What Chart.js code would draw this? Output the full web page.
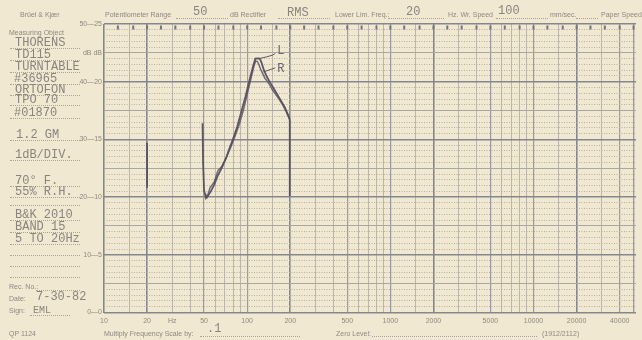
<!DOCTYPE html>
<html>
<head>
<meta charset="utf-8">
<title>Thorens TD115 - B&K chart</title>
<script src="https://cdn.jsdelivr.net/npm/chart.js@4"></script>
<style>
  html, body { margin: 0; padding: 0; background: #f1e8d2; overflow: hidden; }
  #paper { position: relative; width: 642px; height: 340px; overflow: hidden; background: #f1e8d2; }
  #paper canvas { position: absolute; left: 0; top: 0; }
  .pr { position: absolute; font: 7px 'Liberation Sans Narrow', 'Liberation Sans', sans-serif; color: #8f897e; white-space: nowrap; line-height: 1; }
  .ty { position: absolute; font: 12px 'Liberation Mono', monospace; color: #8a847d; white-space: nowrap; line-height: 1; }
  .dot { position: absolute; height: 0; border-bottom: 1px dotted #aaa397; }
</style>
</head>
<body>
<div id="paper">
  <canvas id="chart" width="642" height="340"></canvas>

  <!-- header -->
  <div class="pr" style="left:20px;top:11px">Brüel &amp; Kjær</div>
  <div class="pr" style="left:105px;top:11px">Potentiometer Range</div>
  <div class="ty" style="left:193px;top:6px">50</div>
  <div class="dot" style="left:176px;top:18px;width:52px"></div>
  <div class="pr" style="left:230px;top:11px">dB Rectifier</div>
  <div class="ty" style="left:287px;top:7px">RMS</div>
  <div class="dot" style="left:278px;top:18px;width:52px"></div>
  <div class="pr" style="left:335px;top:11px">Lower Lim. Freq.:</div>
  <div class="ty" style="left:406px;top:6px">20</div>
  <div class="dot" style="left:388px;top:18px;width:56px"></div>
  <div class="pr" style="left:448px;top:11px">Hz. Wr. Speed</div>
  <div class="ty" style="left:498px;top:5px">100</div>
  <div class="dot" style="left:496px;top:18px;width:52px"></div>
  <div class="pr" style="left:550px;top:11px">mm/sec.</div>
  <div class="dot" style="left:576px;top:18px;width:22px"></div>
  <div class="pr" style="left:601px;top:11px">Paper Speed</div>

  <!-- measuring object block -->
  <div class="pr" style="left:9px;top:29px">Measuring Object</div>
  <div class="ty" style="left:15px;top:37px">THORENS</div>
  <div class="dot" style="left:10px;top:48px;width:70px"></div>
  <div class="ty" style="left:15px;top:49px">TD115</div>
  <div class="dot" style="left:10px;top:60px;width:70px"></div>
  <div class="ty" style="left:15px;top:61px">TURNTABLE</div>
  <div class="dot" style="left:10px;top:72px;width:70px"></div>
  <div class="ty" style="left:14px;top:73px">#36965</div>
  <div class="dot" style="left:10px;top:84px;width:70px"></div>
  <div class="ty" style="left:15px;top:84px">ORTOFON</div>
  <div class="dot" style="left:10px;top:95px;width:70px"></div>
  <div class="ty" style="left:15px;top:94px">TPO 70</div>
  <div class="dot" style="left:10px;top:105px;width:70px"></div>
  <div class="ty" style="left:14px;top:107px">#01870</div>
  <div class="dot" style="left:10px;top:118px;width:70px"></div>
  <div class="ty" style="left:16px;top:129px">1.2 GM</div>
  <div class="dot" style="left:10px;top:140px;width:70px"></div>
  <div class="ty" style="left:15px;top:149px">1dB/DIV.</div>
  <div class="dot" style="left:10px;top:160px;width:70px"></div>
  <div class="ty" style="left:15px;top:175px">70° F.</div>
  <div class="dot" style="left:10px;top:186px;width:70px"></div>
  <div class="ty" style="left:15px;top:186px">55% R.H.</div>
  <div class="dot" style="left:10px;top:197px;width:70px"></div>
  <div class="dot" style="left:10px;top:205px;width:70px"></div>
  <div class="ty" style="left:15px;top:209px">B&amp;K 2010</div>
  <div class="dot" style="left:10px;top:220px;width:70px"></div>
  <div class="ty" style="left:15px;top:221px">BAND 15</div>
  <div class="dot" style="left:10px;top:232px;width:70px"></div>
  <div class="ty" style="left:15px;top:233px">5 TO 20Hz</div>
  <div class="dot" style="left:10px;top:244px;width:70px"></div>
  <div class="dot" style="left:10px;top:255px;width:70px"></div>
  <div class="dot" style="left:10px;top:266px;width:70px"></div>
  <div class="dot" style="left:10px;top:277px;width:70px"></div>
  <div class="pr" style="left:9px;top:283px">Rec. No.:</div>
  <div class="dot" style="left:36px;top:290px;width:44px"></div>
  <div class="pr" style="left:9px;top:295px">Date:</div>
  <div class="ty" style="left:36px;top:291px">7-30-82</div>
  <div class="pr" style="left:9px;top:307px">Sign:</div>
  <div class="ty" style="left:33px;top:306px;font-size:10px">EML</div>
  <div class="dot" style="left:30px;top:315px;width:40px"></div>

  <!-- footer -->
  <div class="pr" style="left:9px;top:330px">QP 1124</div>
  <div class="pr" style="left:104px;top:330px">Multiply Frequency Scale by:</div>
  <div class="ty" style="left:207px;top:323px">.1</div>
  <div class="dot" style="left:200px;top:336px;width:100px"></div>
  <div class="pr" style="left:336px;top:330px">Zero Level:</div>
  <div class="dot" style="left:372px;top:336px;width:165px"></div>
  <div class="pr" style="left:542px;top:330px">(1912/2112)</div>
</div>

<script>
// grid lines of the log paper: multipliers inside each decade
const gridMultipliers = [1, 1.5, 2, 3, 4, 5, 6, 7, 8, 9];
const gridDecades = [10, 100, 1000, 10000];
const gridExtra = [50000];

// printed frequency labels
const xTickValues = [10, 20, 30, 50, 100, 200, 500, 1000, 2000, 5000, 10000, 20000, 40000];
const xTickText = ['10', '20', 'Hz', '50', '100', '200', '500', '1000', '2000', '5000', '10000', '20000', '40000'];

// printed level labels (dB, two ranges)
const yTickValues = [0, 10, 20, 30, 40, 45, 50];
const yTickText = ['0—0', '10—5', '20—10', '30—15', '40—20', 'dB dB', '50—25'];

// 1/3 octave marks along the top edge
const markFreq = [12.5, 16, 20, 25, 31.5, 40, 50, 63, 80, 100, 125, 160, 200, 250, 315, 400, 500, 630, 800,
  1000, 1250, 1600, 2000, 2500, 3150, 4000, 5000, 6300, 8000, 10000, 12500, 16000, 20000, 25000, 31500, 40000, 50000];

// left channel trace (Hz, dB)
const lFreq = [48.8, 49.2, 50.0, 51.5, 52.9, 55.5, 59.0, 62.0, 67.1, 71.0, 74.6, 79.5, 85.2, 91.0, 97.3, 105.4,
  110.0, 114.1, 118.5, 122.5, 126.0, 131.0, 137.0, 145.0, 152.6, 163.0, 174.1, 183.0, 188.6, 195.9, 198.4, 198.4];
const lDb = [32.8, 26.0, 21.2, 19.8, 20.1, 20.9, 22.2, 23.6, 25.3, 26.7, 28.2, 30.0, 32.2, 34.8, 37.4, 40.9,
  42.7, 44.0, 44.05, 44.0, 43.3, 42.0, 40.9, 39.8, 38.9, 37.7, 36.5, 35.6, 34.8, 33.9, 33.3, 20.2];

// right channel trace (Hz, dB)
const rFreq = [51.0, 52.5, 55.0, 58.8, 62.5, 66.0, 70.8, 76.7, 83.0, 88.0, 94.0, 100.0, 106.0, 111.0, 114.5,
  118.0, 121.0, 125.0, 129.0, 133.0, 138.0, 144.0, 150.0, 158.0, 167.0, 177.0, 186.0, 192.0, 197.0];
const rDb = [20.6, 20.0, 21.6, 22.6, 24.6, 25.2, 26.6, 28.6, 30.8, 32.6, 35.0, 37.8, 40.4, 42.5, 43.6,
  43.5, 42.9, 42.0, 41.3, 40.6, 40.1, 39.4, 38.6, 37.8, 37.0, 36.0, 35.0, 34.2, 33.6];

// pen mark at 20 Hz
const mark20Freq = [20, 20];
const mark20Db = [29.4, 21.6];

// hand drawn pointers to the channel letters
const lPointerFreq = [123.6, 136.5, 150.5, 157];
const lPointerDb = [44.05, 44.3, 44.6, 44.9];
const rPointerFreq = [130, 145, 157];
const rPointerDb = [41.7, 42.1, 42.4];
const labelText = ['L', 'R'];
const labelFreq = [172, 172];
const labelDb = [45.4, 42.3];

const INK = 'rgba(82, 76, 92, 0.92)';

function pts(xs, ys) {
  return xs.map((x, i) => ({ x: x, y: ys[i] }));
}

function decadeMult(v) {
  const d = Math.pow(10, Math.floor(Math.log10(v) + 1e-9));
  return Math.round(v / d * 10) / 10;
}

function xGridStyle(v) {
  const m = decadeMult(v);
  if (v === 10 || m === 2) return { c: '#85858f', w: 1.6 };
  if (m === 1 || m === 5 || v === 40000) return { c: '#9a9aa3', w: 1.2 };
  return { c: '#bcb5a9', w: 1 };
}

function yGridStyle(v) {
  if (v % 10 === 0) return { c: '#86868f', w: 1.6, dash: [] };
  if (v % 5 === 0) return { c: '#aaa6a0', w: 1, dash: [] };
  return { c: '#b7b0a4', w: 1, dash: [1, 1.5] };
}

const gridFreqs = [];
gridDecades.forEach(d => gridMultipliers.forEach(m => gridFreqs.push(m * d)));
gridExtra.forEach(v => gridFreqs.push(v));

const curveLabels = {
  id: 'curveLabels',
  afterDatasetsDraw(chart) {
    const { ctx, scales: { x, y } } = chart;
    ctx.save();
    ctx.font = '12px "Liberation Mono", monospace';
    ctx.fillStyle = '#6a6470';
    ctx.textAlign = 'center';
    ctx.textBaseline = 'middle';
    labelText.forEach((t, i) => {
      ctx.fillText(t, x.getPixelForValue(labelFreq[i]), y.getPixelForValue(labelDb[i]));
    });
    ctx.restore();
  }
};

const lineDefaults = {
  borderColor: INK,
  borderWidth: 1.8,
  pointRadius: 0,
  tension: 0,
  fill: false
};

new Chart(document.getElementById('chart'), {
  type: 'line',
  data: {
    datasets: [
      Object.assign({ label: 'L', data: pts(lFreq, lDb) }, lineDefaults),
      Object.assign({ label: 'R', data: pts(rFreq, rDb) }, lineDefaults, { borderColor: 'rgba(92, 86, 102, 0.85)', borderWidth: 1.5 }),
      Object.assign({ label: 'mark', data: pts(mark20Freq, mark20Db) }, lineDefaults),
      Object.assign({ label: 'L pointer', data: pts(lPointerFreq, lPointerDb) }, lineDefaults, { borderWidth: 1 }),
      Object.assign({ label: 'R pointer', data: pts(rPointerFreq, rPointerDb) }, lineDefaults, { borderWidth: 1 }),
      {
        label: 'third octave marks',
        type: 'scatter',
        data: markFreq.map(f => ({ x: f, y: 49.4 })),
        pointStyle: 'line',
        rotation: 90,
        pointRadius: 2,
        borderWidth: 2,
        borderColor: '#77737a',
        backgroundColor: '#77737a'
      }
    ]
  },
  options: {
    responsive: false,
    animation: false,
    devicePixelRatio: 1,
    layout: { padding: { top: 24, left: 0, right: 0, bottom: 0 } },
    plugins: {
      legend: { display: false },
      tooltip: { enabled: false }
    },
    scales: {
      x: {
        type: 'logarithmic',
        min: 10,
        max: 52000,
        afterBuildTicks: s => { s.ticks = gridFreqs.map(v => ({ value: v })); },
        afterFit: s => { s.height = 27.5; },
        grid: {
          drawTicks: false,
          color: ctx => xGridStyle(ctx.tick.value).c,
          lineWidth: ctx => xGridStyle(ctx.tick.value).w
        },
        border: { display: false },
        ticks: {
          autoSkip: false,
          maxRotation: 0,
          padding: 4,
          color: '#8f897e',
          font: { family: "'Liberation Sans Narrow', 'Liberation Sans', sans-serif", size: 7 },
          callback: v => {
            const i = xTickValues.indexOf(v);
            return i < 0 ? '' : xTickText[i];
          }
        }
      },
      y: {
        type: 'linear',
        min: 0,
        max: 50,
        afterFit: s => { s.width = 104; },
        grid: {
          drawTicks: false,
          color: ctx => yGridStyle(ctx.tick.value).c,
          lineWidth: ctx => yGridStyle(ctx.tick.value).w
        },
        border: {
          display: false,
          dash: ctx => ctx.tick ? yGridStyle(ctx.tick.value).dash : []
        },
        ticks: {
          stepSize: 1,
          autoSkip: false,
          padding: 2,
          color: '#8f897e',
          font: { family: "'Liberation Sans Narrow', 'Liberation Sans', sans-serif", size: 7 },
          callback: v => {
            const i = yTickValues.indexOf(v);
            return i < 0 ? '' : yTickText[i];
          }
        }
      }
    }
  },
  plugins: [curveLabels]
});
</script>
</body>
</html>
